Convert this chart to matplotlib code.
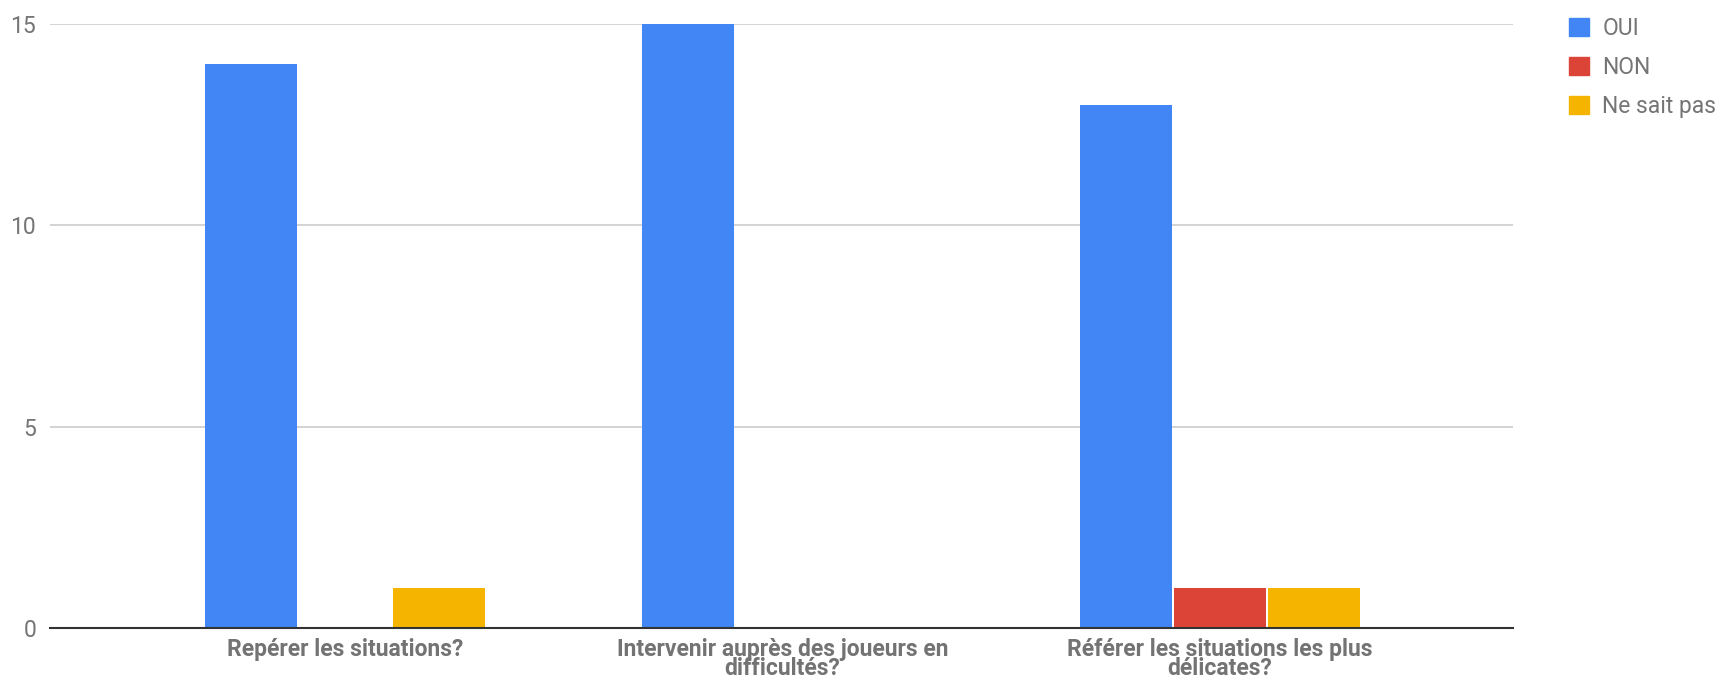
import matplotlib
matplotlib.use("Agg")
import matplotlib.pyplot as plt
from matplotlib.patches import Patch
import numpy as np

plt.rcParams['font.family'] = ['Roboto', 'DejaVu Sans']

categories = ["Repérer les situations?",
              "Intervenir auprès des joueurs en\ndifficultés?",
              "Référer les situations les plus\ndélicates?"]
series_names = ["OUI", "NON", "Ne sait pas"]
oui = [14, 15, 13]
non = [0, 0, 1]
ne_sait_pas = [1, 0, 1]
colors = ["#4285F4", "#DB4437", "#F4B400"]

fig = plt.figure(figsize=(17.25, 6.85), dpi=100)
ax = fig.add_axes([50 / 1725, 1 - 628 / 685, 1463 / 1725, 604 / 685])

x = np.arange(len(categories))
width = 0.21
step = 0.215
for i, (vals, col) in enumerate(zip([oui, non, ne_sait_pas], colors)):
    ax.bar(x + (i - 1) * step, vals, width, color=col, zorder=3)

ax.set_xlim(-0.674, 2.670)
ax.set_ylim(0, 15)
ax.set_yticks([0, 5, 10, 15])
ax.yaxis.grid(True, color="#cccccc", linewidth=1.2, zorder=0)
for s in ["top", "right", "left"]:
    ax.spines[s].set_visible(False)
ax.spines["bottom"].set_color("#333333")
ax.spines["bottom"].set_linewidth(1.5)
ax.spines["bottom"].set_zorder(4)
ax.tick_params(axis="y", length=0, pad=10, labelsize=16.5, labelcolor="#757575")
ax.tick_params(axis="x", length=0, pad=7)
ax.set_xticks(x)
ax.set_xticklabels(categories, fontsize=16.5, fontweight="bold", color="#737373",
                   linespacing=0.82)

handles = [Patch(facecolor=c, edgecolor=c) for c in colors]
fig.legend(handles, series_names, loc="upper left",
           bbox_to_anchor=(1560 / 1725, 1 - 8 / 685), frameon=False,
           fontsize=16.5, labelcolor="#757575", handlelength=0.85,
           handleheight=0.85, handletextpad=0.6, labelspacing=0.7,
           borderaxespad=0)

fig.savefig("out.png", dpi=100)
